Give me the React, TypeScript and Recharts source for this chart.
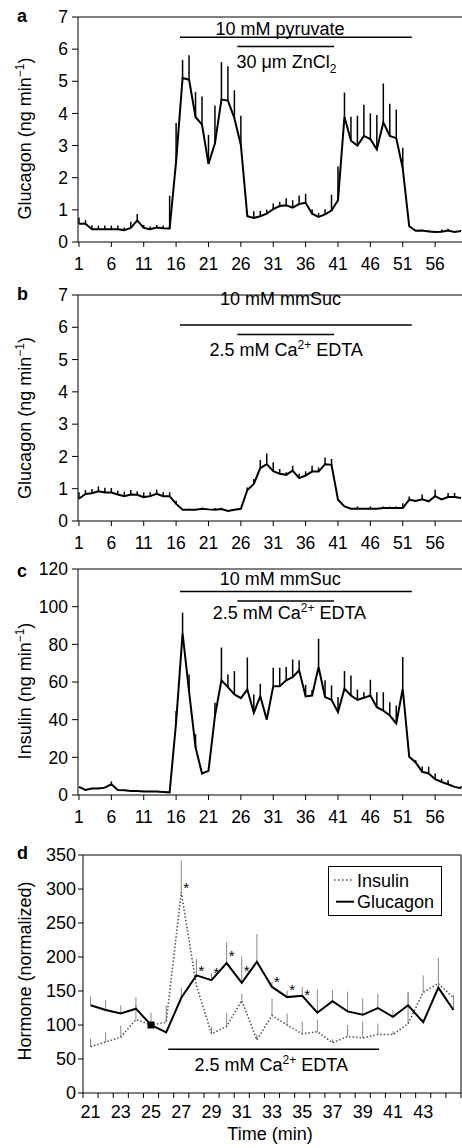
import React from 'react';
import {
  ComposedChart,
  Line,
  Scatter,
  XAxis,
  YAxis,
  ErrorBar,
  ReferenceLine,
  Legend,
} from 'recharts';

const FONT = '"Liberation Sans", Arial, Helvetica, sans-serif';

// panels a-c: perifusion time points (min)
const minutes = [
  1, 2, 3, 4, 5, 6, 7, 8, 9, 10,
  11, 12, 13, 14, 15, 16, 17, 18, 19, 20,
  21, 22, 23, 24, 25, 26, 27, 28, 29, 30,
  31, 32, 33, 34, 35, 36, 37, 38, 39, 40,
  41, 42, 43, 44, 45, 46, 47, 48, 49, 50,
  51, 52, 53, 54, 55, 56, 57, 58, 59, 60,
];
const xTicks = [1, 6, 11, 16, 21, 26, 31, 36, 41, 46, 51, 56];
const glucTicks = [0, 1, 2, 3, 4, 5, 6, 7];
const insTicks = [0, 20, 40, 60, 80, 100, 120];

// a: glucagon (ng/min), pyruvate +/- ZnCl2 — mean and SEM
const glucPyr = [
  0.57, 0.57, 0.4, 0.4, 0.4, 0.4, 0.4, 0.37, 0.44, 0.67,
  0.44, 0.4, 0.45, 0.43, 0.42, 2.5, 5.1, 5.05, 3.89, 3.65,
  2.43, 3.07, 4.43, 4.4, 3.85, 3.02, 0.8, 0.75, 0.8, 0.88,
  1.02, 1.12, 1.14, 1.07, 1.18, 1.22, 0.88, 0.78, 0.86, 0.98,
  1.3, 3.9, 3.15, 3.0, 3.3, 3.2, 2.88, 3.72, 3.3, 3.23,
  2.29, 0.49, 0.35, 0.36, 0.33, 0.31, 0.32, 0.36, 0.31, 0.34,
];
const glucPyrSem = [
  0.19, 0.11, 0.12, 0.11, 0.11, 0.11, 0.11, 0.08, 0.19, 0.2,
  0.09, 0.08, 0.08, 0.08, 1.02, 1.2, 0.56, 0.76, 0.77, 0.88,
  0.9, 1.18, 1.17, 1.07, 0.87, 0.91, 0, 0.21, 0.17, 0.12,
  0.18, 0.13, 0.22, 0.23, 0.27, 0.28, 0.14, 0.12, 0.16, 0.49,
  1.05, 0.75, 0.75, 0.93, 0.97, 0.8, 1.07, 1.21, 1.0, 0.89,
  0.64, 0, 0, 0.02, 0.04, 0.02, 0.07, 0.05, 0.02, 0.02,
];

// b: glucagon (ng/min), mmSuc +/- Ca2+ EDTA
const glucSuc = [
  0.69, 0.84, 0.86, 0.92, 0.88, 0.88, 0.82, 0.77, 0.82, 0.81,
  0.74, 0.77, 0.84, 0.77, 0.77, 0.53, 0.35, 0.35, 0.35, 0.38,
  0.36, 0.35, 0.37, 0.31, 0.35, 0.38, 0.96, 1.15, 1.64, 1.76,
  1.54, 1.46, 1.43, 1.56, 1.33, 1.41, 1.53, 1.53, 1.76, 1.74,
  0.66, 0.45, 0.38, 0.38, 0.38, 0.38, 0.38, 0.4, 0.4, 0.4,
  0.4, 0.66, 0.62, 0.67, 0.61, 0.77, 0.67, 0.74, 0.74, 0.71,
];
const glucSucSem = [
  0.2, 0.12, 0.13, 0.15, 0.15, 0.14, 0.12, 0.14, 0.14, 0.11,
  0.15, 0.12, 0.13, 0.12, 0.12, 0.1, 0, 0.03, 0, 0.03,
  0, 0.05, 0.04, 0, 0, 0, 0.08, 0.15, 0.25, 0.33,
  0.28, 0.15, 0.08, 0.15, 0.13, 0.13, 0.18, 0.13, 0.21, 0.18,
  0, 0, 0, 0.07, 0, 0.07, 0, 0.05, 0.05, 0.05,
  0.15, 0.1, 0, 0.15, 0, 0.2, 0, 0.13, 0.13, 0,
];

// c: insulin (ng/min), mmSuc +/- Ca2+ EDTA
const insSuc = [
  4.3, 2.7, 3.4, 3.4, 3.9, 5.7, 2.7, 2.5, 2.1, 2.1,
  1.8, 1.8, 1.8, 1.6, 1.4, 38.6, 85.8, 55.0, 25.3, 11.4,
  12.8, 42.0, 60.9, 57.3, 53.4, 51.4, 56.0, 43.6, 52.5, 40.0,
  57.8, 57.8, 60.9, 62.6, 66.2, 52.3, 52.8, 68.0, 52.0, 50.5,
  44.0, 56.4, 52.8, 50.5, 51.6, 52.8, 46.6, 44.8, 42.2, 38.0,
  56.4, 20.3, 17.3, 12.3, 11.4, 8.4, 6.9, 5.7, 4.3, 3.6,
];
const insSucSem = [
  0, 0.5, 0.5, 0.5, 0.5, 1.5, 0, 0.5, 0.5, 0.5,
  0.5, 0.5, 0.5, 0, 0, 6, 11, 9, 7, 0,
  0, 7, 17.4, 6.7, 12.4, 0, 17, 9.8, 6.5, 0,
  9.8, 9.8, 7.1, 9.3, 5.3, 6.2, 3, 15, 8.9, 7.7,
  8, 9.4, 10.7, 5.5, 3, 8.4, 8, 9.8, 7.1, 9.5,
  16.9, 0, 1.2, 2.8, 3.6, 3, 1.8, 2.1, 0, 1.2,
];

// d: normalized hormone release, Ca2+ EDTA
const minutesD = [
  21, 22, 23, 24, 25, 26, 27, 28, 29, 30, 31, 32, 33,
  34, 35, 36, 37, 38, 39, 40, 41, 42, 43, 44, 45,
];
const dLabels = [21, 23, 25, 27, 29, 31, 33, 35, 37, 39, 41, 43];
const hormoneTicks = [0, 50, 100, 150, 200, 250, 300, 350];
const insNorm = [
  68, 75, 82, 108, 100, 104, 295, 158, 87, 98, 136, 78, 114,
  100, 87, 90, 74, 83, 81, 86, 86, 102, 148, 161, 140,
];
const insNormSem = [
  12, 15, 17, 21, 0, 25, 47, 0, 10, 20, 10, 8, 25,
  17, 18, 18, 5, 17, 24, 16, 5, 45, 25, 0, 0,
];
const glucNorm = [
  129, 122, 117, 124, 100, 89, 140, 173, 166, 191, 162, 193, 156,
  141, 143, 118, 135, 120, 115, 125, 112, 129, 104, 155, 122,
];
const glucNormSem = [
  13, 15, 12, 17, 18, 0, 15, 24, 10, 31, 39, 41, 8,
  10, 13, 34, 16, 29, 24, 21, 10, 20, 5, 44, 22,
];
// where the significance asterisks sit
const starY: (number | null)[] = [
  null, null, null, null, null, null, 306, 185, 181, 206, 185, null, 169,
  157, 150, null, null, null, null, null, null, null, null, null, null,
];

const toRows = (vals: number[], sems: number[]) =>
  minutes.map((m, i) => ({ m, v: vals[i], e: [0, sems[i]] }));

const rowsA = toRows(glucPyr, glucPyrSem);
const rowsB = toRows(glucSuc, glucSucSem);
const rowsC = toRows(insSuc, insSucSem);
const rowsD = minutesD.map((m, i) => ({
  m,
  ins: insNorm[i],
  insE: [0, insNormSem[i]],
  glu: glucNorm[i],
  gluE: [0, glucNormSem[i]],
  star: starY[i],
}));
const dTicks = [...minutesD.map((m) => m - 0.5), 45.5, ...dLabels].sort((a, b) => a - b);

const tickStyle = { fill: '#000', fontSize: 17.5, fontFamily: FONT };

const bar = (key: string, x1: number, x2: number, y: number) => (
  <ReferenceLine
    key={key}
    segment={[{ x: x1, y }, { x: x2, y }]}
    stroke="#000"
    strokeWidth={1.5}
  />
);

const note = (key: string, m: number, v: number, body: React.ReactNode) => (
  <Scatter
    key={key}
    data={[{ m, v }]}
    dataKey="v"
    legendType="none"
    isAnimationActive={false}
    shape={(p: any) => (
      <text x={p.cx} y={p.cy} textAnchor="middle" fontSize={18} fontFamily={FONT} fill="#000">
        {body}
      </text>
    )}
  />
);

const caEdta = (
  <>
    2.5 mM Ca<tspan dy={-7} fontSize={12}>2+</tspan>
    <tspan dy={7}> EDTA</tspan>
  </>
);

const TracePanel = ({ rows, yMax, yTicks, height, children }: any) => (
  <ComposedChart
    width={462}
    height={height}
    data={rows}
    margin={{ top: 17, right: 0, bottom: 0, left: 0 }}
  >
    <XAxis
      type="number"
      dataKey="m"
      domain={[0.85, 60.15]}
      ticks={xTicks}
      interval={0}
      height={38}
      tickSize={5}
      tickMargin={11}
      tick={tickStyle}
      stroke="#000"
    />
    <YAxis
      type="number"
      domain={[0, yMax]}
      ticks={yTicks}
      interval={0}
      width={78}
      tickSize={6}
      tickMargin={4}
      tick={tickStyle}
      stroke="#000"
    />
    <ReferenceLine y={yMax} stroke="#000" />
    {children}
    <Line
      type="linear"
      dataKey="v"
      stroke="#000"
      strokeWidth={2}
      dot={false}
      activeDot={false}
      isAnimationActive={false}
    >
      <ErrorBar dataKey="e" width={0} stroke="#000" strokeWidth={1.5} direction="y" />
    </Line>
  </ComposedChart>
);

const dTick = (props: any) => {
  const { x, y, payload } = props;
  const v = payload.value;
  if (v % 1 !== 0) return <line x1={x} x2={x} y1={y - 12} y2={y - 7} stroke="#000" />;
  if (!dLabels.includes(v)) return <g />;
  return (
    <text x={x} y={y} dy="0.71em" textAnchor="middle" fontSize={18} fontFamily={FONT} fill="#000">
      {v}
    </text>
  );
};

const squareDot = (props: any) => {
  const { cx, cy, index } = props;
  if (index !== 4) return <g key={`sq${index}`} />;
  return <rect key={`sq${index}`} x={cx - 3.5} y={cy - 3.5} width={7} height={7} fill="#000" />;
};

const starDot = (props: any) => {
  const { cx, cy, index, value } = props;
  if (value == null || cy == null) return <g key={`st${index}`} />;
  return (
    <text key={`st${index}`} x={cx + 5} y={cy + 8.5} textAnchor="middle" fontSize={15} fontFamily={FONT} fill="#000">
      *
    </text>
  );
};

const renderLegend = () => (
  <svg width={115} height={51} style={{ display: 'block' }}>
    <rect x={0.5} y={0.5} width={113} height={49} fill="#fff" stroke="#000" />
    <line x1={6} x2={24} y1={14} y2={14} stroke="#555" strokeWidth={1.6} strokeDasharray="1.5 2.5" />
    <text x={29} y={20.7} fontSize={18} fontFamily={FONT} fill="#000">Insulin</text>
    <line x1={8} x2={26} y1={35.7} y2={35.7} stroke="#000" strokeWidth={2} />
    <text x={29} y={42.3} fontSize={18} fontFamily={FONT} fill="#000">Glucagon</text>
  </svg>
);

const HormonePanel = () => (
  <ComposedChart
    width={462}
    height={310}
    data={rowsD}
    margin={{ top: 17, right: 1, bottom: 0, left: 0 }}
  >
    <XAxis
      type="number"
      dataKey="m"
      domain={[20.5, 45.5]}
      ticks={dTicks}
      interval={0}
      height={55}
      tickSize={5}
      tickMargin={7}
      tickLine={false}
      tick={dTick}
      stroke="#000"
    />
    <YAxis
      type="number"
      domain={[0, 350]}
      ticks={hormoneTicks}
      interval={0}
      width={83}
      tickSize={5}
      tickMargin={2}
      tick={{ ...tickStyle, fontSize: 18 }}
      stroke="#000"
    />
    <ReferenceLine y={350} stroke="#000" />
    <ReferenceLine x={45.5} stroke="#000" />
    {bar('d1', 26.14, 40.08, 64.3)}
    {note('d2', 32.95, 32.8, caEdta)}
    <Line
      name="Insulin"
      type="linear"
      dataKey="ins"
      stroke="#555"
      strokeWidth={1.6}
      strokeDasharray="1.5 2"
      dot={false}
      activeDot={false}
      isAnimationActive={false}
    >
      <ErrorBar dataKey="insE" width={0} stroke="#888" strokeWidth={1} direction="y" />
    </Line>
    <Line
      name="Glucagon"
      type="linear"
      dataKey="glu"
      stroke="#000"
      strokeWidth={2}
      dot={squareDot}
      activeDot={false}
      isAnimationActive={false}
    >
      <ErrorBar dataKey="gluE" width={0} stroke="#888" strokeWidth={1} direction="y" />
    </Line>
    <Line
      dataKey="star"
      stroke="none"
      legendType="none"
      dot={starDot}
      activeDot={false}
      isAnimationActive={false}
    />
    <Legend
      layout="vertical"
      align="center"
      verticalAlign="middle"
      wrapperStyle={{ left: 328, top: 28, width: 115, height: 51 }}
      content={renderLegend}
    />
  </ComposedChart>
);

const yTitle = (x: number, y: number, body: React.ReactNode) => (
  <text x={x} y={y} transform={`rotate(-90 ${x} ${y})`} textAnchor="middle" fontSize={18}>
    {body}
  </text>
);

const perMin = (name: string) => (
  <>
    {name} (ng min<tspan dy={-7} fontSize={12}>−1</tspan>
    <tspan dy={7}>)</tspan>
  </>
);

export default function App() {
  return (
    <div style={{ position: 'absolute', left: 0, top: 0, width: 462, height: 1148, background: '#fff' }}>
      <div style={{ position: 'absolute', left: 0, top: 0 }}>
        <TracePanel rows={rowsA} yMax={7} yTicks={glucTicks} height={280}>
          {bar('a1', 16.6, 52.4, 6.37)}
          {bar('a2', 25.45, 40.4, 6.08)}
          {note('a3', 32.05, 6.44, '10 mM pyruvate')}
          {note('a4', 33.05, 5.4, (
            <>
              30 μm ZnCl<tspan dy={5} fontSize={12}>2</tspan>
            </>
          ))}
        </TracePanel>
      </div>
      <div style={{ position: 'absolute', left: 0, top: 278 }}>
        <TracePanel rows={rowsB} yMax={7} yTicks={glucTicks} height={281}>
          {bar('b1', 16.6, 52.4, 6.07)}
          {bar('b2', 25.45, 40.4, 5.78)}
          {note('b3', 32.12, 6.69, '10 mM mmSuc')}
          {note('b4', 33.0, 5.11, caEdta)}
        </TracePanel>
      </div>
      <div style={{ position: 'absolute', left: 0, top: 552 }}>
        <TracePanel rows={rowsC} yMax={120} yTicks={insTicks} height={281}>
          {bar('c1', 16.6, 52.4, 108)}
          {bar('c2', 25.45, 40.4, 103)}
          {note('c3', 32.1, 111.5, '10 mM mmSuc')}
          {note('c4', 33.5, 93.3, caEdta)}
        </TracePanel>
      </div>
      <div style={{ position: 'absolute', left: 0, top: 838 }}>
        <HormonePanel />
      </div>
      <svg
        width={462}
        height={1148}
        style={{ position: 'absolute', left: 0, top: 0, pointerEvents: 'none' }}
        fontFamily={FONT}
        fill="#000"
      >
        <text x={17} y={21.7} fontSize={18} fontWeight="bold">a</text>
        <text x={17} y={299.5} fontSize={18} fontWeight="bold">b</text>
        <text x={17} y={576.5} fontSize={18} fontWeight="bold">c</text>
        <text x={17} y={859} fontSize={18} fontWeight="bold">d</text>
        {yTitle(31, 138.5, perMin('Glucagon'))}
        {yTitle(31, 418, perMin('Glucagon'))}
        {yTitle(31, 691, perMin('Insulin'))}
        {yTitle(31, 971, 'Hormone (normalized)')}
        <text x={270} y={1140} textAnchor="middle" fontSize={18}>Time (min)</text>
      </svg>
    </div>
  );
}
